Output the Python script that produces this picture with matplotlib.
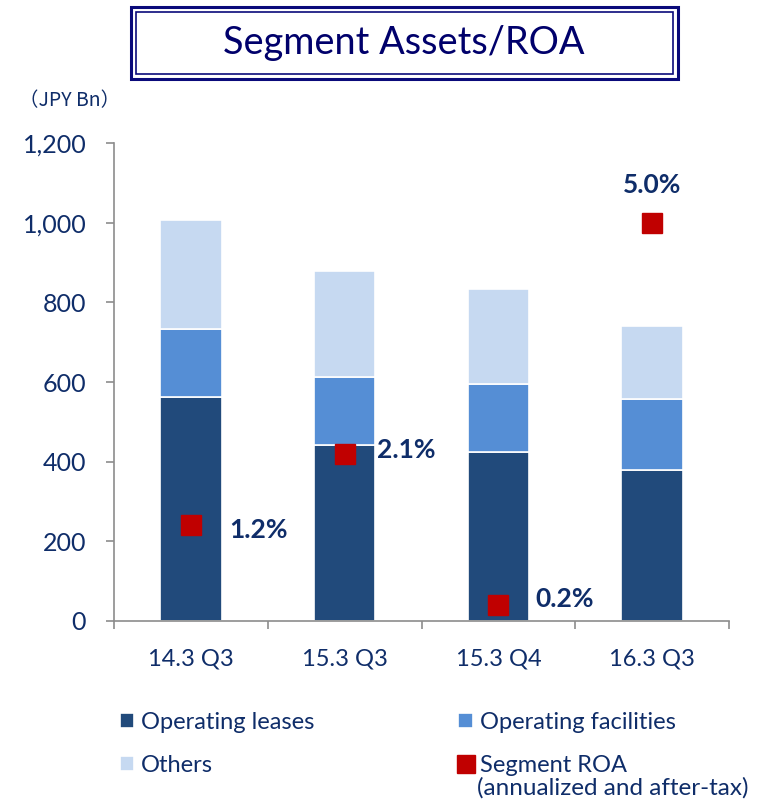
import matplotlib.pyplot as plt
from matplotlib.patches import Rectangle

plt.rcParams['font.family'] = ['Lato', 'DejaVu Sans']

# data
periods = ['14.3 Q3', '15.3 Q3', '15.3 Q4', '16.3 Q3']
op_leases = [562, 442, 424, 379]
op_facilities = [171, 171, 171, 178]
others = [274, 266, 239, 184]
roa = [1.2, 2.1, 0.2, 5.0]
roa_labels = ['1.2%', '2.1%', '0.2%', '5.0%']

navy = '#0F2D69'
c_leases = '#214A7B'
c_fac = '#558ED5'
c_oth = '#C6D9F1'
c_roa = '#C00000'

fig = plt.figure(figsize=(7.6, 8.01), dpi=100)
W, H = 760, 801

# title box (double border)
fig.patches.append(Rectangle((131 / W, 1 - 79 / H), 547 / W, 72 / H, transform=fig.transFigure,
                             fill=False, edgecolor='#0A0A7A', linewidth=2.2))
fig.patches.append(Rectangle((136 / W, 1 - 74 / H), 537 / W, 62 / H, transform=fig.transFigure,
                             fill=False, edgecolor='#0A0A7A', linewidth=1.2))
fig.text(404 / W, 1 - 43 / H, 'Segment Assets/ROA', ha='center', va='center',
         fontsize=27.3, color='#00006B')

ax = fig.add_axes([114 / W, 1 - 621 / H, 615 / W, 478 / H])
x = list(range(len(periods)))
bw = 0.4
b1 = ax.bar(x, op_leases, bw, color=c_leases, edgecolor='white', linewidth=1.2,
            label='Operating leases')
bottom2 = op_leases
b2 = ax.bar(x, op_facilities, bw, bottom=bottom2, color=c_fac, edgecolor='white',
            linewidth=1.2, label='Operating facilities')
bottom3 = [a + b for a, b in zip(op_leases, op_facilities)]
b3 = ax.bar(x, others, bw, bottom=bottom3, color=c_oth, edgecolor='white',
            linewidth=1.2, label='Others')

ax.set_xlim(-0.5, 3.5)
ax.set_ylim(0, 1200)
ax.set_yticks(range(0, 1201, 200))
ax.set_yticklabels([f'{v:,}' for v in range(0, 1201, 200)])
ax.set_xticks([-0.5, 0.5, 1.5, 2.5, 3.5])
ax.set_xticklabels([])
ax.set_xticks(x, minor=True)
ax.set_xticklabels(periods, minor=True)
ax.tick_params(axis='x', which='major', length=6, color='#8C8C8C', width=1.2)
ax.tick_params(axis='x', which='minor', length=0, pad=20, labelsize=17, labelcolor=navy)
ax.tick_params(axis='y', length=6, color='#8C8C8C', width=1.2, labelsize=18,
               labelcolor=navy, pad=14)
for s in ['top', 'right']:
    ax.spines[s].set_visible(False)
for s in ['left', 'bottom']:
    ax.spines[s].set_color('#8C8C8C')
    ax.spines[s].set_linewidth(1.2)

fig.text(70 / W, 1 - 101 / H, '（JPY Bn）', ha='center', va='center', fontsize=14,
         color=navy, family=['Noto Sans CJK JP', 'DejaVu Sans'])

ax2 = ax.twinx()
ax2.set_ylim(0, 6)
ax2.axis('off')
sc, = ax2.plot(x, roa, 's', color=c_roa, markersize=15, linestyle='none',
               label='Segment ROA')
offsets = [(38, -5), (32, 4), (37, 6), (0, 38)]
for xi, r, lab, off in zip(x, roa, roa_labels, offsets):
    ha = 'left' if off[0] else 'center'
    ax2.annotate(lab, (xi, r), xytext=off, textcoords='offset pixels', ha=ha,
                 va='center', fontsize=19, fontweight='bold', color=navy)

handles = [b1, b3, b2, sc]
labels = ['Operating leases', 'Others', 'Operating facilities', 'Segment ROA']
leg = fig.legend(handles, labels, loc='upper left', bbox_to_anchor=(108 / W, 1 - 700 / H),
                 ncol=2, frameon=False, fontsize=17, handlelength=0.6, handleheight=0.6,
                 handletextpad=0.3, columnspacing=6.1, labelspacing=0.95, borderpad=0,
                 markerscale=0.85)
for t in leg.get_texts():
    t.set_color(navy)
fig.text(477 / W, 1 - 788 / H, '(annualized and after-tax)', ha='left', va='center',
         fontsize=17.5, color=navy)

fig.savefig('out.png', dpi=100)
